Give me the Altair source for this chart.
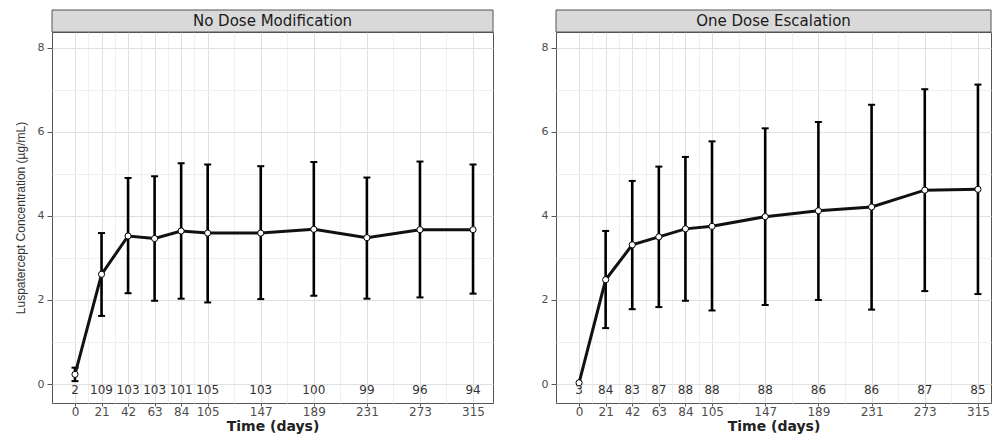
import altair as alt
import pandas as pd

days = [0, 21, 42, 63, 84, 105, 147, 189, 231, 273, 315]
minor_days = [10.5, 31.5, 52.5, 73.5, 94.5, 126, 168, 210, 252, 294]

nomod_mean = [0.23, 2.61, 3.52, 3.46, 3.64, 3.59, 3.59, 3.68, 3.48, 3.67, 3.67]
nomod_lower = [0.07, 1.62, 2.16, 1.98, 2.03, 1.94, 2.02, 2.10, 2.03, 2.06, 2.15]
nomod_upper = [0.39, 3.59, 4.90, 4.94, 5.25, 5.22, 5.18, 5.28, 4.91, 5.29, 5.22]
nomod_n = [2, 109, 103, 103, 101, 105, 103, 100, 99, 96, 94]

esc_mean = [0.03, 2.48, 3.31, 3.50, 3.69, 3.75, 3.98, 4.12, 4.21, 4.61, 4.63]
esc_lower = [None, 1.33, 1.78, 1.83, 1.98, 1.75, 1.88, 2.00, 1.77, 2.21, 2.14]
esc_upper = [None, 3.64, 4.83, 5.17, 5.40, 5.77, 6.08, 6.23, 6.64, 7.01, 7.12]
esc_n = [3, 84, 83, 87, 88, 88, 88, 86, 86, 87, 85]

y_ticks = [0, 1, 2, 3, 4, 5, 6, 7, 8]

YTITLE = "Luspatercept Concentration (µg/mL)"
MAJOR = "#E0E0E0"
MINOR = "#EFEFEF"
H = 371
STRIP = 22


def make_panel(title, mean, lower, upper, n, width, xdomain, ytitle):
    df = pd.DataFrame({"day": days, "mean": mean, "lower": lower,
                       "upper": upper, "n": n})
    days_str = "[" + ",".join(str(d) for d in days) + "]"
    xaxis = alt.Axis(
        values=days + minor_days,
        labelExpr=f"indexof({days_str}, datum.value) >= 0 ? datum.label : ''",
        gridColor={"condition": {"test": f"indexof({days_str}, datum.value) < 0", "value": MINOR}, "value": MAJOR},
        tickOpacity={"condition": {"test": f"indexof({days_str}, datum.value) < 0", "value": 0}, "value": 1},
        grid=True, domain=False, tickColor="#555", tickSize=3,
        labelFont="DejaVu Sans", labelFontSize=12, labelColor="#4D4D4D",
        labelOverlap=False, labelFlush=False, labelPadding=0,
        title="Time (days)", titleFont="DejaVu Sans", titleFontSize=14,
        titleFontWeight="bold", titleColor="#222", titlePadding=2,
    )
    yaxis = alt.Axis(
        values=y_ticks,
        labelExpr="datum.value % 2 == 0 ? datum.label : ''",
        gridColor={"condition": {"test": "datum.value % 2 != 0", "value": MINOR}, "value": MAJOR},
        tickOpacity={"condition": {"test": "datum.value % 2 != 0", "value": 0}, "value": 1},
        grid=True, domain=False, tickColor="#555", tickSize=5,
        labelFont="DejaVu Sans", labelFontSize=11, labelColor="#4D4D4D",
        labelPadding=3,
        title=ytitle, titleFont="Liberation Sans", titleFontSize=12,
        titleFontWeight="normal", titleColor="#333", titlePadding=10,
    )
    xscale = alt.Scale(domain=xdomain, nice=False, zero=False)
    yscale = alt.Scale(domain=[-0.45, 8.37], nice=False, zero=False)

    def X():
        return alt.X("day:Q", scale=xscale, axis=xaxis)

    def Y(field):
        return alt.Y(field, scale=yscale, axis=yaxis)

    base = alt.Chart(df)
    grid_layer = base.mark_point(opacity=0).encode(x=X(), y=Y("mean:Q"))
    rules = base.mark_rule(color="black", strokeWidth=2.6).encode(
        x=X(), y=Y("lower:Q"), y2="upper:Q")
    cap_lo = base.mark_tick(orient="horizontal", size=7, thickness=2, color="black",
                            opacity=1).encode(x=X(), y=Y("lower:Q"))
    cap_hi = base.mark_tick(orient="horizontal", size=7, thickness=2, color="black",
                            opacity=1).encode(x=X(), y=Y("upper:Q"))
    line = base.mark_line(color="#111", strokeWidth=3).encode(x=X(), y=Y("mean:Q"))
    pts = base.mark_point(filled=True, fill="white", stroke="black", strokeWidth=1,
                          size=38, opacity=1).encode(x=X(), y=Y("mean:Q"))
    ntext = base.transform_calculate(ny="-0.14").mark_text(
        font="DejaVu Sans", fontSize=12, color="#333", baseline="middle"
    ).encode(x=X(), y=Y("ny:Q"), text="n:Q")

    sdf = pd.DataFrame({"panel": [title]})
    strip_rect = alt.Chart(sdf).mark_rect(fill="#D9D9D9", stroke="#555", strokeWidth=1).encode(
        x=alt.value(0), x2=alt.value(width), y=alt.value(-STRIP), y2=alt.value(0))
    strip_text = alt.Chart(sdf).mark_text(font="DejaVu Sans", fontSize=15, color="#1A1A1A",
                                          baseline="middle", align="center").encode(
        x=alt.value(width / 2), y=alt.value(-STRIP / 2), text="panel:N")

    return alt.layer(grid_layer, rules, cap_lo, cap_hi, line, pts, ntext,
                     strip_rect, strip_text).properties(width=width, height=H)


left = make_panel("No Dose Modification", nomod_mean, nomod_lower, nomod_upper, nomod_n,
                  441, [-18.2, 330.8], YTITLE)
right = make_panel("One Dose Escalation", esc_mean, esc_lower, esc_upper, esc_n,
                   435, [-18.2, 325.3], None)

chart = alt.hconcat(left, right, spacing=46).properties(
    padding={"left": 13, "top": 9, "right": 0, "bottom": 0},
    background="white",
).configure_view(stroke="#555", strokeWidth=1)

chart.save("out.html", embed_options={"renderer": "svg", "actions": False})
